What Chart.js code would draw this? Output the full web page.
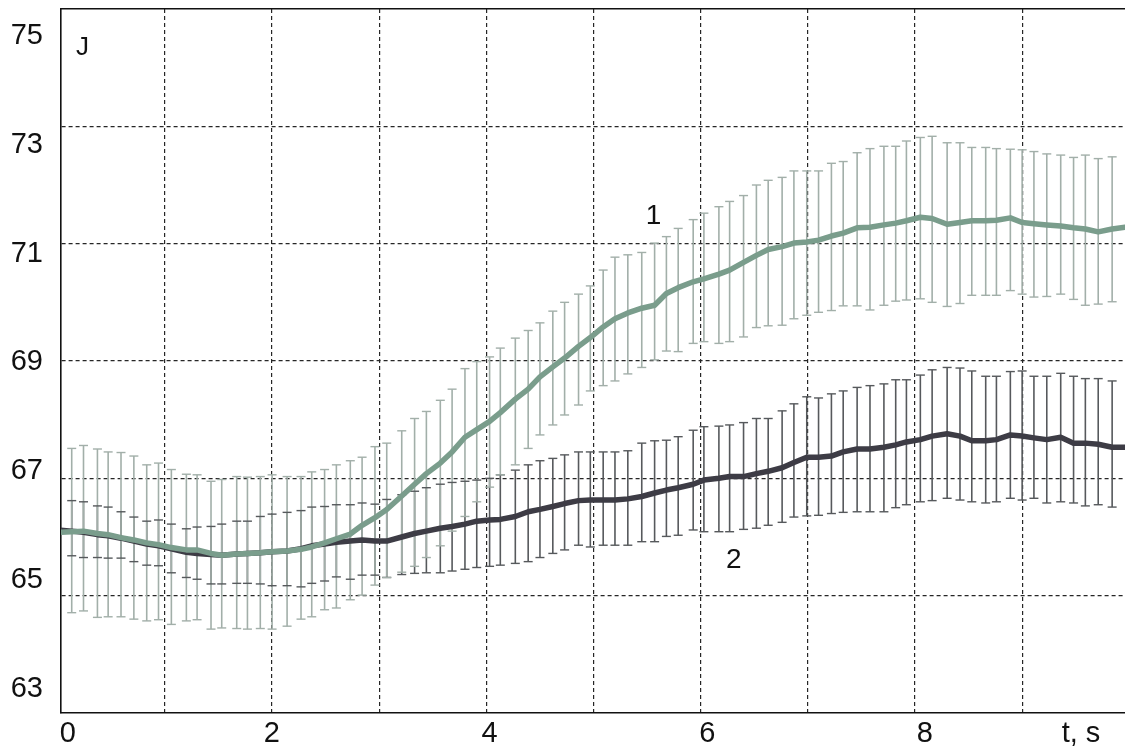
<!DOCTYPE html>
<html>
<head>
<meta charset="utf-8">
<script src="https://cdn.jsdelivr.net/npm/chart.js@4.4.0/dist/chart.umd.min.js"></script>
<style>
  html, body { margin: 0; padding: 0; background: #ffffff; }
  #wrap { width: 1125px; height: 755px; }
</style>
</head>
<body>
<div id="wrap"><canvas id="c" width="1125" height="755"></canvas></div>
<script>
// Sampling times, s (first and last points only carry the mean curves)
const t = [0.00,
  0.13, 0.24, 0.37, 0.47, 0.59, 0.71, 0.83, 0.94, 1.06, 1.20, 1.30, 1.43, 1.53, 1.67, 1.77, 1.89, 2.00, 2.14, 2.27, 2.37, 2.49, 2.60, 2.73, 2.84, 2.96, 3.07,
  3.21, 3.33, 3.44, 3.57, 3.68, 3.80, 3.91, 4.03, 4.13, 4.27, 4.39, 4.50, 4.62, 4.73, 4.86, 4.97, 5.09, 5.20, 5.32, 5.45, 5.57, 5.68, 5.79, 5.93, 6.03, 6.17, 6.27, 6.40, 6.52,
  6.63, 6.76, 6.87, 6.99, 7.10, 7.22, 7.33, 7.46, 7.58, 7.71, 7.82, 7.92, 8.05, 8.16, 8.30, 8.42, 8.53, 8.66, 8.76, 8.89, 9.00, 9.11, 9.23, 9.36, 9.48, 9.59, 9.71, 9.84,
  9.96];

// Curve 1: mean J and error-bar ends
const j1 = [66.08,
  66.09, 66.10, 66.06, 66.04, 65.99, 65.95, 65.90, 65.87, 65.82, 65.78, 65.78, 65.72, 65.69, 65.71, 65.72, 65.73, 65.75, 65.76, 65.79, 65.83, 65.90, 65.97, 66.05, 66.20, 66.33, 66.47,
  66.70, 66.90, 67.08, 67.26, 67.45, 67.70, 67.83, 67.97, 68.12, 68.35, 68.52, 68.73, 68.90, 69.05, 69.25, 69.40, 69.58, 69.72, 69.82, 69.90, 69.95, 70.15, 70.25, 70.35, 70.40, 70.48, 70.55, 70.68, 70.80,
  70.90, 70.95, 71.01, 71.03, 71.06, 71.13, 71.18, 71.27, 71.28, 71.32, 71.35, 71.39, 71.45, 71.43, 71.33, 71.36, 71.39, 71.39, 71.40, 71.44, 71.36, 71.34, 71.32, 71.30, 71.27, 71.25, 71.20, 71.25,
  71.28];
const j1High = [null,
  67.51, 67.56, 67.50, 67.45, 67.44, 67.38, 67.23, 67.26, 67.15, 67.07, 67.06, 66.95, 66.98, 67.03, 67.02, 67.03, 67.06, 67.03, 67.03, 67.11, 67.15, 67.23, 67.30, 67.36, 67.54, 67.60,
  67.81, 68.02, 68.14, 68.33, 68.52, 68.87, 68.99, 69.07, 69.22, 69.39, 69.52, 69.65, 69.85, 70.00, 70.14, 70.28, 70.55, 70.77, 70.81, 70.85, 71.01, 71.12, 71.26, 71.41, 71.52, 71.63, 71.72, 71.82, 72.00,
  72.08, 72.13, 72.24, 72.24, 72.24, 72.37, 72.40, 72.55, 72.62, 72.66, 72.66, 72.75, 72.81, 72.83, 72.72, 72.72, 72.64, 72.64, 72.62, 72.61, 72.60, 72.57, 72.53, 72.51, 72.47, 72.51, 72.45, 72.48,
  null];
const j1Low = [null,
  64.71, 64.74, 64.63, 64.64, 64.64, 64.60, 64.57, 64.59, 64.51, 64.57, 64.59, 64.43, 64.45, 64.44, 64.43, 64.44, 64.43, 64.48, 64.60, 64.64, 64.76, 64.79, 64.93, 65.01, 65.18, 65.31,
  65.40, 65.50, 65.65, 65.85, 66.10, 66.35, 66.60, 66.85, 67.06, 67.23, 67.51, 67.74, 67.91, 68.08, 68.25, 68.49, 68.58, 68.66, 68.78, 68.89, 69.02, 69.17, 69.16, 69.30, 69.33, 69.30, 69.33, 69.41, 69.57,
  69.60, 69.61, 69.72, 69.78, 69.83, 69.86, 69.94, 69.94, 69.87, 69.95, 70.02, 70.04, 70.06, 70.00, 69.93, 69.98, 70.12, 70.12, 70.12, 70.20, 70.14, 70.09, 70.10, 70.14, 70.05, 69.95, 69.97, 70.01,
  null];

// Curve 2: mean J and error-bar ends
const j2 = [66.12,
  66.10, 66.08, 66.04, 66.02, 65.98, 65.93, 65.88, 65.85, 65.80, 65.74, 65.72, 65.70, 65.69, 65.71, 65.72, 65.73, 65.75, 65.76, 65.80, 65.85, 65.88, 65.91, 65.93, 65.95, 65.93, 65.93,
  66.00, 66.06, 66.10, 66.15, 66.18, 66.22, 66.27, 66.29, 66.30, 66.35, 66.43, 66.47, 66.52, 66.57, 66.62, 66.63, 66.63, 66.63, 66.65, 66.69, 66.75, 66.80, 66.84, 66.90, 66.97, 67.00, 67.03, 67.03, 67.08,
  67.12, 67.18, 67.27, 67.36, 67.36, 67.38, 67.45, 67.50, 67.50, 67.53, 67.57, 67.62, 67.66, 67.72, 67.76, 67.72, 67.64, 67.64, 67.66, 67.74, 67.72, 67.69, 67.66, 67.70, 67.60, 67.60, 67.58, 67.53,
  67.53];
const j2High = [null,
  66.62, 66.60, 66.53, 66.51, 66.43, 66.34, 66.27, 66.29, 66.22, 66.14, 66.17, 66.18, 66.22, 66.27, 66.27, 66.35, 66.39, 66.42, 66.45, 66.51, 66.52, 66.55, 66.55, 66.58, 66.56, 66.64,
  66.72, 66.78, 66.84, 66.90, 66.93, 66.95, 66.97, 67.00, 67.06, 67.14, 67.23, 67.30, 67.34, 67.40, 67.45, 67.45, 67.45, 67.45, 67.47, 67.60, 67.64, 67.65, 67.71, 67.82, 67.88, 67.89, 67.91, 67.95, 68.02,
  68.02, 68.15, 68.27, 68.39, 68.37, 68.44, 68.49, 68.55, 68.58, 68.61, 68.68, 68.68, 68.76, 68.85, 68.89, 68.88, 68.83, 68.74, 68.74, 68.82, 68.83, 68.74, 68.74, 68.79, 68.74, 68.70, 68.70, 68.66,
  null];
const j2Low = [null,
  65.68, 65.65, 65.65, 65.64, 65.64, 65.58, 65.52, 65.51, 65.39, 65.31, 65.28, 65.20, 65.20, 65.21, 65.21, 65.20, 65.17, 65.17, 65.15, 65.21, 65.25, 65.32, 65.28, 65.35, 65.35, 65.31,
  65.36, 65.38, 65.39, 65.39, 65.42, 65.45, 65.48, 65.50, 65.52, 65.55, 65.58, 65.65, 65.72, 65.78, 65.86, 65.83, 65.86, 65.86, 65.86, 65.92, 65.92, 66.01, 66.03, 66.12, 66.09, 66.09, 66.09, 66.13, 66.15,
  66.20, 66.25, 66.34, 66.36, 66.37, 66.40, 66.42, 66.43, 66.43, 66.43, 66.50, 66.55, 66.60, 66.62, 66.66, 66.63, 66.60, 66.58, 66.60, 66.66, 66.63, 66.66, 66.58, 66.60, 66.58, 66.53, 66.55, 66.51,
  null];

// Axis labels
const yTickValues = [63, 65, 67, 69, 71, 73, 75];
const xTickValues = [0.126, 2, 4, 6, 8, 9.434];
const xTickLabels = ['0', '2', '4', '6', '8', 't, s'];
const yGridValues = [65, 67, 69, 71, 73];
const xGridValues = [1, 2, 3, 4, 5, 6, 7, 8, 9];

// In-plot captions (axis name and curve numbers), placed in data units
const captions = [
  { text: 'J', t: 0.23, j: 74.33, size: 26 },
  { text: '1', t: 5.56, j: 71.46, size: 28 },
  { text: '2', t: 6.31, j: 65.60, size: 28 }
];

const FONT = "'Liberation Sans', Arial, sans-serif";
const GREEN = '#7a9d8c';
const DARK = '#3d3c45';
const GREEN_BAR = '#a2afa9';
const DARK_BAR = '#56595c';
const GRID = '#262626';

const meanPoints = (m) => t.map((x, i) => ({ x: x, y: m[i] }));
const barSpans = (lo, hi) => t.map((x, i) => (lo[i] == null ? null : { x: x, y: [lo[i], hi[i]] })).filter(Boolean);
const capPoints = (lo, hi) => t.flatMap((x, i) => (lo[i] == null ? [] : [{ x: x, y: lo[i] }, { x: x, y: hi[i] }]));

// Label-only axes: fixed thickness, no extra layout padding around end labels
const fixSize = (size) => (scale) => {
  if (scale.isHorizontal()) scale.height = size; else scale.width = size;
  scale.paddingTop = 0; scale.paddingBottom = 0; scale.paddingLeft = 0; scale.paddingRight = 0;
};
const noPad = (scale) => {
  scale.paddingTop = 0; scale.paddingBottom = 0; scale.paddingLeft = 0; scale.paddingRight = 0;
};

const captionPlugin = {
  id: 'captions',
  afterDatasetsDraw(chart) {
    const { ctx, scales } = chart;
    ctx.save();
    ctx.fillStyle = '#111';
    ctx.textAlign = 'center';
    ctx.textBaseline = 'middle';
    captions.forEach(c => {
      ctx.font = c.size + 'px ' + FONT;
      ctx.fillText(c.text, scales.x.getPixelForValue(c.t), scales.y.getPixelForValue(c.j));
    });
    ctx.restore();
  }
};

new Chart(document.getElementById('c'), {
  type: 'line',
  data: {
    datasets: [
      { type: 'line', data: meanPoints(j1), borderColor: GREEN, borderWidth: 5.5, pointRadius: 0,
        tension: 0, borderJoinStyle: 'round', borderCapStyle: 'round', order: 0 },
      { type: 'line', data: meanPoints(j2), borderColor: DARK, borderWidth: 5.5, pointRadius: 0,
        tension: 0, borderJoinStyle: 'round', borderCapStyle: 'round', order: 1 },
      { type: 'line', data: capPoints(j1Low, j1High), showLine: false, pointStyle: 'line',
        pointRadius: 4.5, pointBorderWidth: 1.4, pointBorderColor: GREEN_BAR, order: 2 },
      { type: 'line', data: capPoints(j2Low, j2High), showLine: false, pointStyle: 'line',
        pointRadius: 4.5, pointBorderWidth: 1.4, pointBorderColor: DARK_BAR, order: 3 },
      { type: 'bar', data: barSpans(j1Low, j1High), backgroundColor: GREEN_BAR, borderWidth: 0,
        barThickness: 1.6, inflateAmount: 0, grouped: false, order: 4 },
      { type: 'bar', data: barSpans(j2Low, j2High), backgroundColor: DARK_BAR, borderWidth: 0,
        barThickness: 1.6, inflateAmount: 0, grouped: false, order: 5 }
    ]
  },
  options: {
    responsive: false,
    animation: false,
    events: [],
    layout: { autoPadding: false, padding: { left: 11, top: 9, right: 0, bottom: 0 } },
    plugins: { legend: { display: false }, tooltip: { enabled: false }, title: { display: false } },
    scales: {
      x: {
        type: 'linear', position: 'bottom', min: 0.03, max: 9.96, offset: false, weight: 0,
        afterBuildTicks: s => { s.ticks = xGridValues.map(v => ({ value: v })); },
        afterFit: noPad,
        ticks: { display: false },
        grid: { color: GRID, lineWidth: 1.2, drawTicks: false, offset: false },
        border: { display: true, color: '#111', width: 1.6, dash: [4, 3] }
      },
      xLabels: {
        type: 'linear', position: 'bottom', min: 0.063, max: 9.838, weight: 10, offset: false,
        afterBuildTicks: s => { s.ticks = xTickValues.map(v => ({ value: v })); },
        afterFit: fixSize(42),
        ticks: {
          autoSkip: false, maxRotation: 0, padding: 4, color: '#111',
          font: { family: FONT, size: 29 },
          callback: (v, i) => xTickLabels[i]
        },
        grid: { display: false, drawTicks: false, offset: false },
        border: { display: false }
      },
      xTop: {
        type: 'linear', position: 'top', min: 0, max: 1,
        afterFit: fixSize(0),
        ticks: { display: false },
        grid: { display: false, drawTicks: false },
        border: { display: true, color: '#111', width: 1.6 }
      },
      y: {
        type: 'linear', position: 'left', min: 63, max: 75, weight: 0,
        afterBuildTicks: s => { s.ticks = yGridValues.map(v => ({ value: v })); },
        afterFit: noPad,
        ticks: { display: false },
        grid: { color: GRID, lineWidth: 1.2, drawTicks: false },
        border: { display: true, color: '#111', width: 1.6, dash: [4, 3] }
      },
      yLabels: {
        type: 'linear', position: 'left', min: 62.553, max: 75.5, weight: 10,
        afterBuildTicks: s => { s.ticks = yTickValues.map(v => ({ value: v })); },
        afterFit: fixSize(50),
        ticks: {
          padding: 18, color: '#111',
          font: { family: FONT, size: 29 },
          callback: (v, i) => String(yTickValues[i])
        },
        grid: { display: false, drawTicks: false },
        border: { display: false }
      }
    }
  },
  plugins: [captionPlugin]
});
</script>
</body>
</html>
